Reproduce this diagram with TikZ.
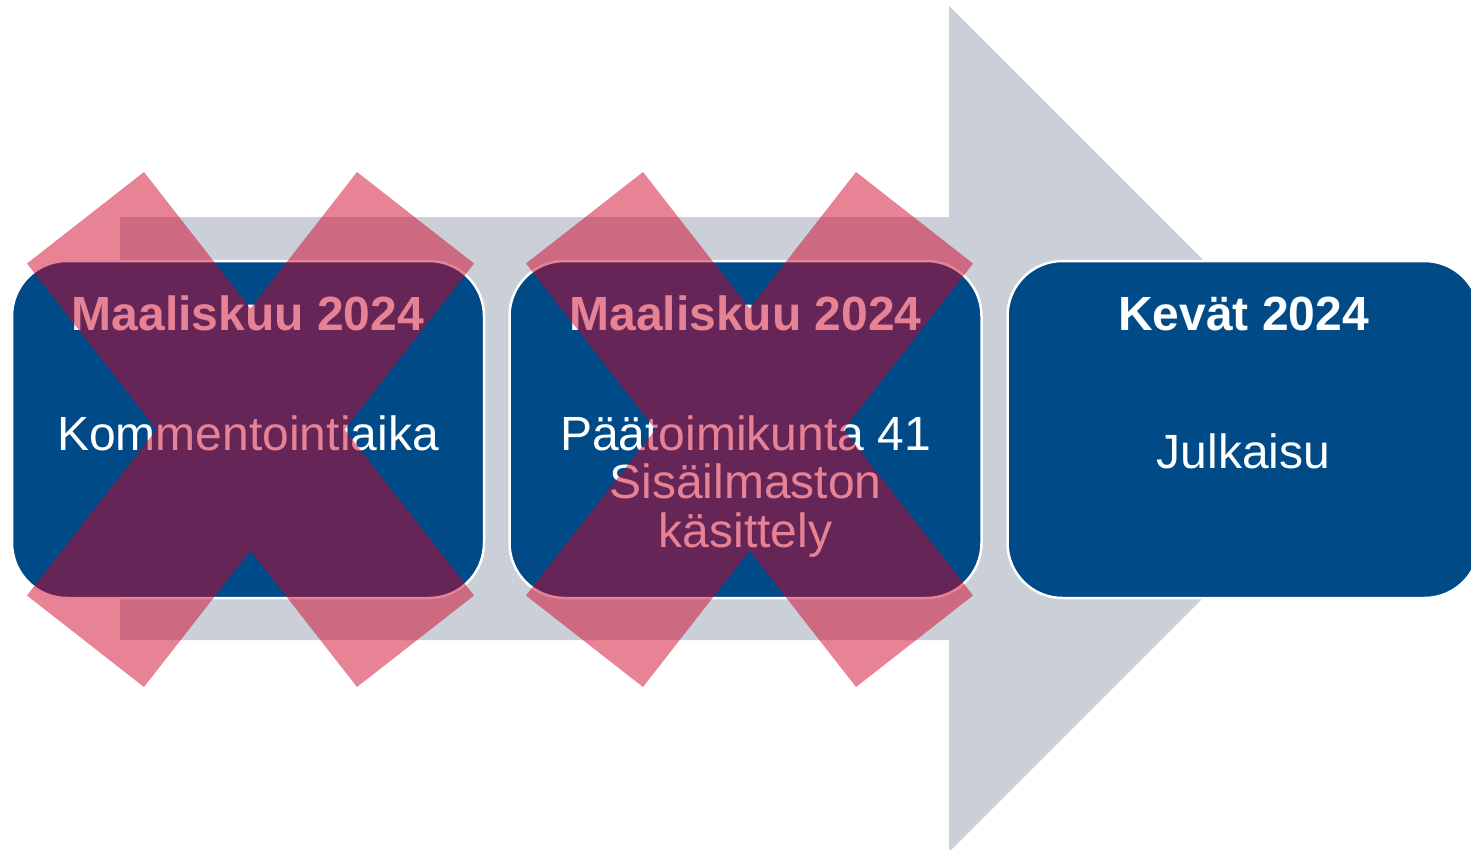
\documentclass[tikz,border=0pt]{standalone}
\usepackage{fontspec}
\setmainfont{Liberation Sans}
\definecolor{arrowgray}{HTML}{CBD0D8}
\definecolor{boxblue}{HTML}{004A87}
\definecolor{xred}{HTML}{D00027}
\tikzset{
  stagebox/.style={draw=white, line width=2.5pt, fill=boxblue, rounded corners=55pt,
    minimum width=472pt, minimum height=337pt, inner sep=0pt},
  titletext/.style={text=white, anchor=base, inner sep=0pt, font=\fontsize{48}{48.5}\selectfont\bfseries},
  bodytext/.style={text=white, anchor=base, inner sep=0pt, align=center, font=\fontsize{48}{48.5}\selectfont},
  crossmark/.style={fill=xred, fill opacity=0.49}
}
\begin{document}
\begin{tikzpicture}[x=1pt, y=-1pt]
\useasboundingbox (0,0) rectangle (1471,849);
\clip (0,0) rectangle (1471,849);
% big gray arrow
\fill[arrowgray] (120,217) -- (949,217) -- (949,6) -- (1372,429) -- (949,852) -- (949,640) -- (120,640) -- cycle;
% boxes
\node[stagebox] (b1) at (248,429.5) {};
\node[stagebox] (b2) at (745.5,429.5) {};
\node[stagebox] (b3) at (1243.5,429.5) {};
% texts
\node[titletext] (t1) at (248,330) {Maaliskuu 2024};
\node[bodytext] (c1) at (248,450) {Kommentointiaika};
\node[titletext] (t2) at (745.5,330) {Maaliskuu 2024};
\node[bodytext] (c2) at (745.5,547) {Päätoimikunta 41\\Sisäilmaston\\käsittely};
\node[titletext] (t3) at (1243.5,330) {Kevät 2024};
\node[bodytext] (c3) at (1243.5,468) {Julkaisu};
% crosses
\foreach \cx in {250.5, 749.5} {
  \fill[crossmark] (\cx,429.5)
    ++(-106.5,-257.5) -- ++(106.5,136.5) -- ++(106.5,-136.5) -- ++(117,91.5)
    -- ++(-129.5,166) -- ++(129.5,166) -- ++(-117,91.5) -- ++(-106.5,-136.5)
    -- ++(-106.5,136.5) -- ++(-117,-91.5) -- ++(129.5,-166) -- ++(-129.5,-166) -- cycle;
}
\end{tikzpicture}
\end{document}
